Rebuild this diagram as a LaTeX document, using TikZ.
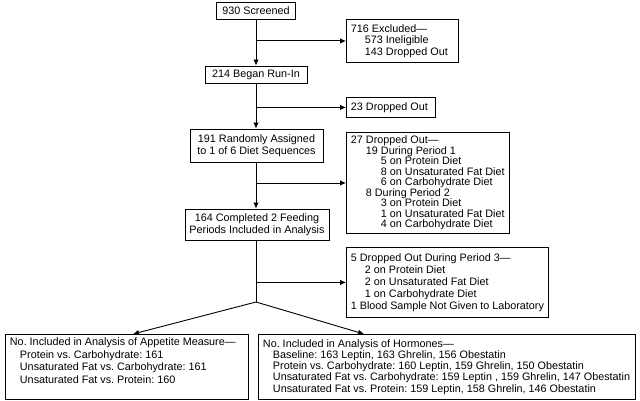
\documentclass[tikz,border=0pt]{standalone}
\usepackage{fontspec}
\setmainfont{Liberation Sans}
\usetikzlibrary{arrows.meta}
\frenchspacing

\begin{document}
\begin{tikzpicture}[x=1pt,y=-1pt]
		\tikzstyle{every node}=[draw, line width=0.9pt, fill=white,
		inner xsep=4.5pt, inner ysep=2pt, font=\fontsize{10.8}{11.5}\selectfont]
		\tikzstyle{side}=[anchor=north west, align=flush left]
		\tikzstyle{flow}=[line width=0.9pt, -{Latex[length=6pt,width=5.5pt]}]
		\useasboundingbox (0,0) rectangle (640,401);
		%-----main column
		 \node[minimum width=79pt, minimum height=17pt]  (scr) at (256,10.5) {930 Screened};
		 \node[minimum width=102pt, minimum height=17pt] (run) at (256,74.5) {214 Began Run-In};
		 \node[minimum width=133pt, minimum height=33pt, align=center] (rnd) at (256.5,145.5) {191 Randomly Assigned\\to 1 of 6 Diet Sequences};
		 \node[minimum width=136pt, minimum height=31pt, align=center] (cmp) at (257,224.5) {164 Completed 2 Feeding\\Periods Included in Analysis};
		%-----side boxes
		 \node[side, text width=103pt, minimum height=43pt] (exc) at (346,19) {716 Excluded---\\\hspace*{14pt}573 Ineligible\\\hspace*{14pt}143 Dropped Out};
		 \node[side, text width=80pt, minimum height=20pt] (d23) at (346,97) {23 Dropped Out};
		 \node[side, text width=154pt, minimum height=101pt, font=\fontsize{10.8}{10.5}\selectfont] (d27) at (346,132) {27 Dropped Out---\\
		 \hspace*{15pt}19 During Period 1\\
		 \hspace*{30pt}5 on Protein Diet\\
		 \hspace*{30pt}8 on Unsaturated Fat Diet\\
		 \hspace*{30pt}6 on Carbohydrate Diet\\
		 \hspace*{15pt}8 During Period 2\\
		 \hspace*{30pt}3 on Protein Diet\\
		 \hspace*{30pt}1 on Unsaturated Fat Diet\\
		 \hspace*{30pt}4 on Carbohydrate Diet};
		 \node[side, text width=193pt, minimum height=70pt, font=\fontsize{10.8}{12}\selectfont] (d5) at (346,247) {5 Dropped Out During Period 3---\\
		 \hspace*{14pt}2 on Protein Diet\\
		 \hspace*{14pt}2 on Unsaturated Fat Diet\\
		 \hspace*{14pt}1 on Carbohydrate Diet\\
		 1 Blood Sample Not Given to Laboratory};
		%-----results
		 \node[side, text width=234pt, minimum height=65pt, font=\fontsize{10.8}{12.5}\selectfont] (app) at (5,334) {No. Included in Analysis of Appetite Measure---\\
		 \hspace*{10pt}Protein vs. Carbohydrate: 161\\
		 \hspace*{10pt}Unsaturated Fat vs. Carbohydrate: 161\\
		 \hspace*{10pt}Unsaturated Fat vs. Protein: 160\\ ~};
		 \node[side, text width=368pt, minimum height=65pt, font=\fontsize{10.8}{11.2}\selectfont] (hor) at (258,334) {No. Included in Analysis of Hormones---\\
		 \hspace*{10pt}Baseline: 163 Leptin, 163 Ghrelin, 156 Obestatin\\
		 \hspace*{10pt}Protein vs. Carbohydrate: 160 Leptin, 159 Ghrelin, 150 Obestatin\\
		 \hspace*{10pt}Unsaturated Fat vs. Carbohydrate: 159 Leptin , 159 Ghrelin, 147 Obestatin\\
		 \hspace*{10pt}Unsaturated Fat vs. Protein: 159 Leptin, 158 Ghrelin, 146 Obestatin};

		 \coordinate (b1) at (scr.south |- exc.west);
		 \coordinate (b2) at (scr.south |- d23.west);
		 \coordinate (b3) at (scr.south |- d27.west);
		 \coordinate (b4) at (scr.south |- d5.west);
		 \coordinate (fork) at (256,302);
		 \coordinate (tapp) at (133,334);
		 \coordinate (thor) at (364,334);

		  \draw[flow] (scr.south) -- (run.north);
		  \draw[flow] (run.south) -- (scr.south |- rnd.north);
		  \draw[flow] (scr.south |- rnd.south) -- (scr.south |- cmp.north);
		  \draw[line width=0.9pt] (scr.south |- cmp.south) -- (fork);

		 \foreach \from/\to in {b1/exc, b2/d23, b3/d27, b4/d5}
		  \draw[flow] (\from) -- (\to.west);
		  \draw[flow] (fork) -- (tapp);
		  \draw[flow] (fork) -- (thor);
\end{tikzpicture}
\end{document}
